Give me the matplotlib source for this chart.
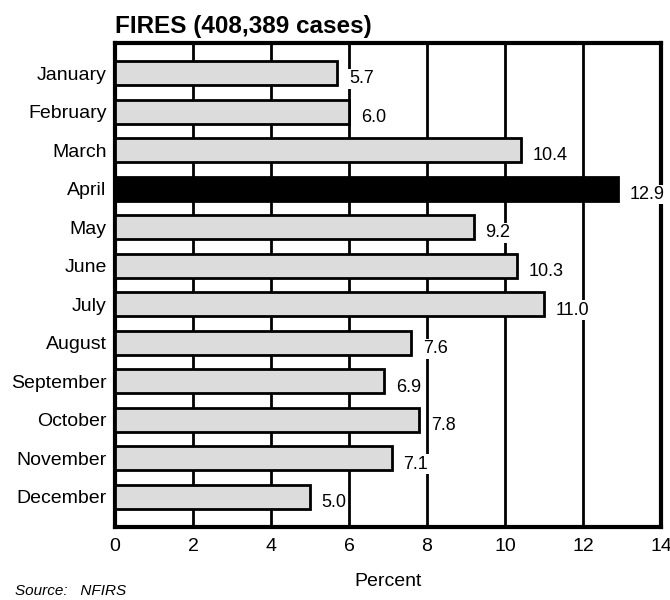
import matplotlib
matplotlib.use('Agg')
import matplotlib.pyplot as plt
from matplotlib import font_manager

# Data
months = ['January', 'February', 'March', 'April', 'May', 'June', 'July',
          'August', 'September', 'October', 'November', 'December']
percent = [5.7, 6.0, 10.4, 12.9, 9.2, 10.3, 11.0, 7.6, 6.9, 7.8, 7.1, 5.0]
highlight = 'April'
xticks = [0, 2, 4, 6, 8, 10, 12, 14]

names = {f.name for f in font_manager.fontManager.ttflist}
font = 'Liberation Sans Narrow' if 'Liberation Sans Narrow' in names else 'Liberation Sans'
plt.rcParams['font.family'] = [font, 'DejaVu Sans']

fig = plt.figure(figsize=(6.7, 6), dpi=100)
ax = fig.add_axes([0.1716, 0.1217, 0.815, 0.8066])

colors = ['black' if m == highlight else '#dcdcdc' for m in months]
ypos = range(len(months))
ax.barh(ypos, percent, height=0.62, color=colors, edgecolor='black',
        linewidth=2, zorder=3)

# Value labels with white background covering grid lines
for y, v in zip(ypos, percent):
    ax.text(v + 0.3, y + 0.15, f'{v:.1f}', ha='left', va='center', fontsize=13,
            zorder=4, bbox=dict(facecolor='white', edgecolor='none', pad=1))

ax.set_xlim(0, 14)
ax.set_ylim(len(months) - 1 + 0.78, -0.78)
ax.set_xticks(xticks)
ax.set_xticklabels([str(t) for t in xticks], fontsize=14)
ax.set_yticks(list(ypos))
ax.set_yticklabels(months, fontsize=14)
ax.tick_params(length=0, pad=6)
ax.tick_params(axis='x', pad=8)
ax.grid(axis='x', color='black', linewidth=2, zorder=0)
ax.set_axisbelow(True)
for s in ax.spines.values():
    s.set_linewidth(3)

ax.set_xlabel('Percent', fontsize=14, labelpad=13)
fig.text(0.1716, 0.955, 'FIRES (408,389 cases)', fontsize=17.5, fontweight='bold',
         ha='left', va='center')
fig.text(0.022, 0.003, 'Source:   NFIRS', fontsize=11, style='italic',
         ha='left', va='bottom')

fig.savefig('out.png', dpi=100)
plt.close(fig)
